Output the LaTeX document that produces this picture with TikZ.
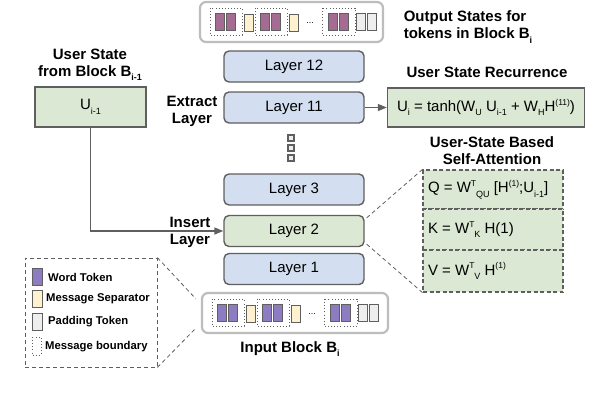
\documentclass[tikz,border=0pt]{standalone}
\usepackage{fontspec}
\setmainfont{Liberation Sans}
\usetikzlibrary{arrows.meta}
\definecolor{layerblue}{HTML}{D3DFF1}
\definecolor{lgreen}{HTML}{DBE8D3}
\definecolor{bordgray}{HTML}{5F5F5F}
\definecolor{outgray}{HTML}{BDBDBD}
\definecolor{wordin}{HTML}{8E7CC3}
\definecolor{wordout}{HTML}{A46C93}
\definecolor{sepcol}{HTML}{FDF1CF}
\definecolor{padcol}{HTML}{EEEEEE}
\newcommand\sbx[1]{\raisebox{-0.55ex}{\fontsize{9}{10}\selectfont #1}}
\newcommand\spx[1]{\raisebox{0.8ex}{\fontsize{8.5}{10}\selectfont #1}}
\newcommand\tokrow[3]{% x0, y0, word colour
  \draw[grpbox] ({#1+10},{#2+6}) rectangle ({#1+42},{#2+33});
  \draw[grpbox] ({#1+55},{#2+6}) rectangle ({#1+87},{#2+33});
  \draw[grpbox] ({#1+122},{#2+6}) rectangle ({#1+155},{#2+33});
  \draw[tok,fill=#3] ({#1+15},{#2+11}) rectangle ({#1+24},{#2+28});
  \draw[tok,fill=#3] ({#1+26},{#2+11}) rectangle ({#1+35},{#2+28});
  \draw[tok,fill=sepcol] ({#1+44},{#2+12}) rectangle ({#1+53},{#2+29});
  \draw[tok,fill=#3] ({#1+60},{#2+11}) rectangle ({#1+69},{#2+28});
  \draw[tok,fill=#3] ({#1+71},{#2+11}) rectangle ({#1+80},{#2+28});
  \draw[tok,fill=sepcol] ({#1+89},{#2+12}) rectangle ({#1+98},{#2+29});
  \node[font=\fontsize{9}{10}\selectfont] at ({#1+110},{#2+21}) {...};
  \draw[tok,fill=#3] ({#1+128},{#2+11}) rectangle ({#1+137},{#2+28});
  \draw[tok,fill=#3] ({#1+139},{#2+11}) rectangle ({#1+148},{#2+28});
  \draw[tok,fill=padcol] ({#1+156},{#2+11}) rectangle ({#1+165},{#2+28});
  \draw[tok,fill=padcol] ({#1+167},{#2+11}) rectangle ({#1+176},{#2+28});
}
\begin{document}
\begin{tikzpicture}[x=1pt,y=-1pt,
  layerbox/.style={draw=bordgray,line width=1.4pt,rounded corners=5pt,fill=layerblue,
    minimum width=140pt,minimum height=31pt,inner sep=0pt,font=\fontsize{15}{18}\selectfont},
  greenbox/.style={draw=bordgray,line width=1.4pt,fill=lgreen,inner sep=0pt,font=\fontsize{15}{18}\selectfont},
  attbox/.style={draw=bordgray,dashed,dash pattern=on 4pt off 2.5pt,line width=1.1pt,fill=lgreen,
    minimum width=140pt,inner sep=0pt,font=\fontsize{15}{18}\selectfont},
  blockbox/.style={draw=outgray,line width=2.2pt,rounded corners=6pt,fill=white,inner sep=0pt},
  title/.style={font=\fontsize{15}{17}\bfseries\selectfont,align=center,inner sep=0pt},
  legtext/.style={font=\fontsize{11.3}{12}\bfseries\selectfont,anchor=west,inner sep=0pt},
  arr/.style={draw=bordgray,line width=1.4pt,-{Triangle[length=9pt,width=7pt]}},
  dashln/.style={draw=bordgray,line width=0.8pt,dash pattern=on 4pt off 3pt},
  grpbox/.style={draw=bordgray,line width=0.9pt,dash pattern=on 0.9pt off 2.2pt},
  tok/.style={draw=bordgray,line width=1pt},
  dotsq/.style={draw=bordgray,fill=padcol,line width=1.2pt,minimum size=6pt,inner sep=0pt}]
\useasboundingbox (0,0) rectangle (594,400);

% blocks of tokens
\node[blockbox,minimum width=183pt,minimum height=40pt] (out) at (291.5,22) {};
\tokrow{200}{2}{wordout}
\node[blockbox,minimum width=186pt,minimum height=40pt] (in) at (295,313) {};
\tokrow{202}{293}{wordin}

\node[title,align=left] (outt) at (468,27) {Output States for\\tokens in Block B\sbx{i}};
\node[title] (intt) at (290,349) {Input Block B\sbx{i}};

% layers
\node[layerbox] (l12) at (294,66.5) {Layer 12};
\node[layerbox] (l11) at (294,107.5) {Layer 11};
\node[layerbox] (l3) at (294,189.5) {Layer 3};
\node[layerbox,fill=lgreen] (l2) at (294,231) {Layer 2};
\node[layerbox] (l1) at (294,269) {Layer 1};
\node[dotsq] (d1) at (291,138) {};
\node[dotsq] (d2) at (291,148) {};
\node[dotsq] (d3) at (291,158) {};

\node[title] (ext) at (192,111) {Extract\\Layer};
\node[title] (ins) at (190,232) {Insert\\Layer};

% user state
\node[title] (ust) at (90,65) {User State\\from Block B\sbx{i-1}};
\node[greenbox,minimum width=111pt,minimum height=40pt] (u) at (90.5,107) {U\sbx{i-1}};
\draw[arr] (u.south) |- (l2.west);

% recurrence
\node[title] (rect) at (487,72) {User State Recurrence};
\node[greenbox,minimum width=197pt,minimum height=39pt] (rec) at (486,107.5)
  {U\sbx{i} = tanh(W\sbx{U} U\sbx{i-1} + W\sbx{H}H\spx{(11)})};
\draw[arr] (l11.east) -- (rec.west);

% attention
\node[title] (att) at (492,151) {User-State Based\\Self-Attention};
\node[attbox,minimum height=39pt] (q) at (493,189.5)
  {\makebox[130pt][l]{Q = W\spx{T}\sbx{QU} [H\spx{(1)};U\sbx{i-1}]}};
\node[attbox,minimum height=41pt] (k) at (493,229.5)
  {\makebox[130pt][l]{K = W\spx{T}\sbx{K} H(1)}};
\node[attbox,minimum height=42pt] (v) at (493,271)
  {\makebox[130pt][l]{V = W\spx{T}\sbx{V} H\spx{(1)}}};
\draw[dashln] ([xshift=2pt,yshift=-3pt]l2.north east) -- (q.north west);
\draw[dashln] ([xshift=2pt,yshift=3pt]l2.south east) -- (v.south west);

% legend
\node[draw=bordgray,line width=0.8pt,dash pattern=on 4pt off 3pt,minimum width=132pt,minimum height=109pt,inner sep=0pt] (leg) at (91,312.5) {};
\draw[tok,fill=wordin] (32,268) rectangle (42,285);
\node[legtext] (lw) at (48,277) {Word Token};
\draw[tok,fill=sepcol] (32,290) rectangle (42,307);
\node[legtext] (ls) at (46,299) {Message Separator};
\draw[tok,fill=padcol] (32,313) rectangle (42,330);
\node[legtext] (lp) at (48,322) {Padding Token};
\draw[grpbox] (32,337) rectangle (41,355);
\node[legtext] (lb) at (45,347) {Message boundary};
\draw[dashln] (leg.north east) -- ([xshift=-5pt,yshift=-7pt]in.north west);
\draw[dashln] (leg.south east) -- ([xshift=-5pt,yshift=6pt]in.south west);
\end{tikzpicture}
\end{document}
